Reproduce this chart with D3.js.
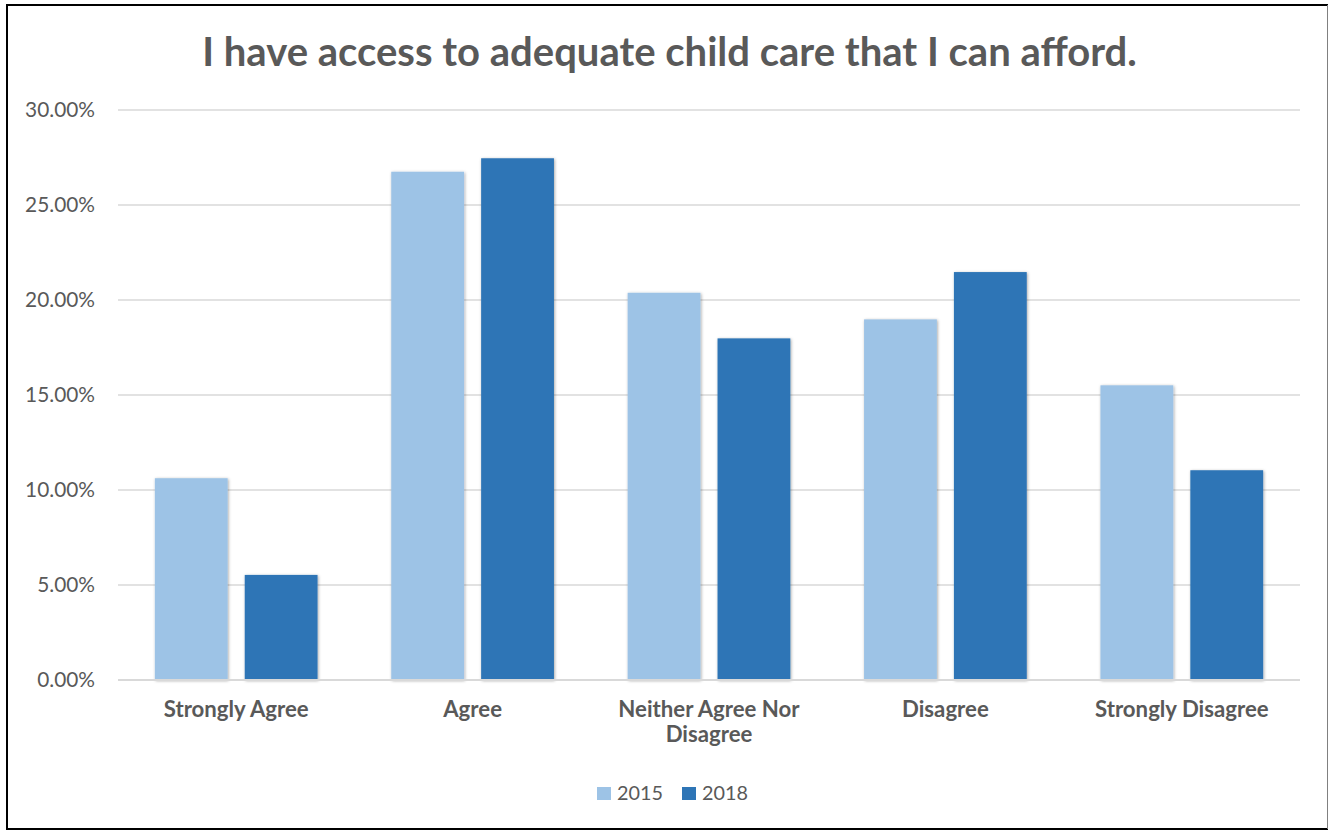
<!DOCTYPE html>
<html>
<head>
<meta charset="utf-8">
<script src="https://cdn.jsdelivr.net/npm/d3@7"></script>
<style>
  html, body { margin: 0; padding: 0; background: #fff; }
  svg { display: block; }
  text { font-family: Lato, "Open Sans", sans-serif; fill: #595959; }
</style>
</head>
<body>
<svg id="chart" width="1329" height="831"></svg>
<script>
const title = "I have access to adequate child care that I can afford.";
const categories = ["Strongly Agree", "Agree", "Neither Agree Nor Disagree", "Disagree", "Strongly Disagree"];
const seriesNames = ["2015", "2018"];
const values2015 = [0.1062, 0.2675, 0.2038, 0.1898, 0.1551];
const values2018 = [0.0553, 0.2746, 0.1798, 0.2147, 0.1104];
const yTicks = [0, 0.05, 0.10, 0.15, 0.20, 0.25, 0.30];
const colors = ["#9DC3E6", "#2E75B6"];

(function () {
const seriesValues = [values2015, values2018];
const svg = d3.select("#chart");

const defs = svg.append("defs");
const f = defs.append("filter").attr("id", "shadow").attr("x", "-20%").attr("y", "-20%").attr("width", "140%").attr("height", "140%");
f.append("feDropShadow").attr("dx", 0.8).attr("dy", 0.8).attr("stdDeviation", 1.6)
  .attr("flood-color", "#000").attr("flood-opacity", 0.35);

svg.append("rect").attr("x", 0).attr("y", 0).attr("width", 1329).attr("height", 831).attr("fill", "#fff");

const pLeft = 118, pRight = 1300, pTop = 110, pBottom = 680;
const x0 = d3.scaleBand().domain(categories).range([pLeft, pRight]).padding(0);
const x1 = d3.scaleBand().domain(seriesNames).range([0, x0.bandwidth()]).paddingInner(0.19).paddingOuter(0.41);
const y = d3.scaleLinear().domain([0, 0.30]).range([pBottom, pTop]);

function fit(sel, target) {
  const base = parseFloat(sel.attr("font-size"));
  const w = sel.node().getComputedTextLength();
  const s = base * target / w;
  sel.attr("font-size", s);
  return s;
}

svg.append("g").selectAll("line").data(yTicks).join("line")
  .attr("x1", pLeft).attr("x2", pRight)
  .attr("y1", d => y(d)).attr("y2", d => y(d))
  .attr("stroke", "#d9d9d9")
  .attr("stroke-width", d => d === 0 ? 2 : 1.3);

const fmt = d3.format(".2%");
const yLab = svg.append("g");
const probe = yLab.append("text").attr("font-size", 20).text(fmt(0.30));
const ySize = fit(probe, 70);
probe.remove();
yLab.selectAll("text").data(yTicks).join("text")
  .attr("x", 95).attr("y", d => y(d)).attr("dy", "0.35em")
  .attr("text-anchor", "end").attr("font-size", ySize)
  .text(d => fmt(d));

const groups = svg.append("g").selectAll("g").data(categories).join("g")
  .attr("transform", d => `translate(${x0(d)},0)`);
groups.selectAll("rect").data((c, i) => seriesNames.map((s, j) => ({ s, v: seriesValues[j][i], j })))
  .join("rect")
  .attr("x", d => x1(d.s))
  .attr("width", x1.bandwidth())
  .attr("y", d => y(d.v))
  .attr("height", d => y(0) - y(d.v))
  .attr("fill", d => colors[d.j])
  .attr("filter", "url(#shadow)");

svg.append("line").attr("x1", pLeft).attr("x2", pRight).attr("y1", y(0)).attr("y2", y(0))
  .attr("stroke", "#d9d9d9").attr("stroke-width", 2);

const cLab = svg.append("g");
const p2 = cLab.append("text").attr("font-size", 20).attr("font-weight", "bold").text("Strongly Agree");
const cSize = fit(p2, 145);
p2.remove();
categories.forEach(c => {
  const cx = x0(c) + x0.bandwidth() / 2;
  const t = cLab.append("text")
    .attr("x", cx).attr("y", 717)
    .attr("text-anchor", "middle").attr("font-size", cSize).attr("font-weight", "bold");
  t.text(c);
  if (t.node().getComputedTextLength() > 210) {
    t.text(null);
    const words = c.split(" ");
    t.append("tspan").attr("x", cx).attr("dy", 0).text(words.slice(0, 3).join(" "));
    t.append("tspan").attr("x", cx).attr("dy", 25).text(words.slice(3).join(" "));
  }
});

const tt = svg.append("text").attr("x", 669.5).attr("y", 66).attr("text-anchor", "middle")
  .attr("font-size", 40).attr("font-weight", "bold").text(title);
fit(tt, 935);

const leg = svg.append("g");
const p3 = leg.append("text").attr("font-size", 20).text("2015");
const lSize = fit(p3, 46);
p3.remove();
const legX = [597, 682];
seriesNames.forEach((s, i) => {
  leg.append("rect").attr("x", legX[i]).attr("y", 787).attr("width", 14).attr("height", 13).attr("fill", colors[i]);
  leg.append("text").attr("x", legX[i] + 20).attr("y", 800).attr("font-size", lSize).text(s);
});

svg.append("line").attr("x1", 7).attr("x2", 1328).attr("y1", 5).attr("y2", 5).attr("stroke", "#000").attr("stroke-width", 2);
svg.append("line").attr("x1", 7).attr("x2", 1328).attr("y1", 829).attr("y2", 829).attr("stroke", "#000").attr("stroke-width", 2);
svg.append("line").attr("x1", 7).attr("x2", 7).attr("y1", 4).attr("y2", 830).attr("stroke", "#000").attr("stroke-width", 2);
svg.append("line").attr("x1", 1327.5).attr("x2", 1327.5).attr("y1", 5).attr("y2", 829).attr("stroke", "#808080").attr("stroke-width", 1);
})();
</script>
</body>
</html>
